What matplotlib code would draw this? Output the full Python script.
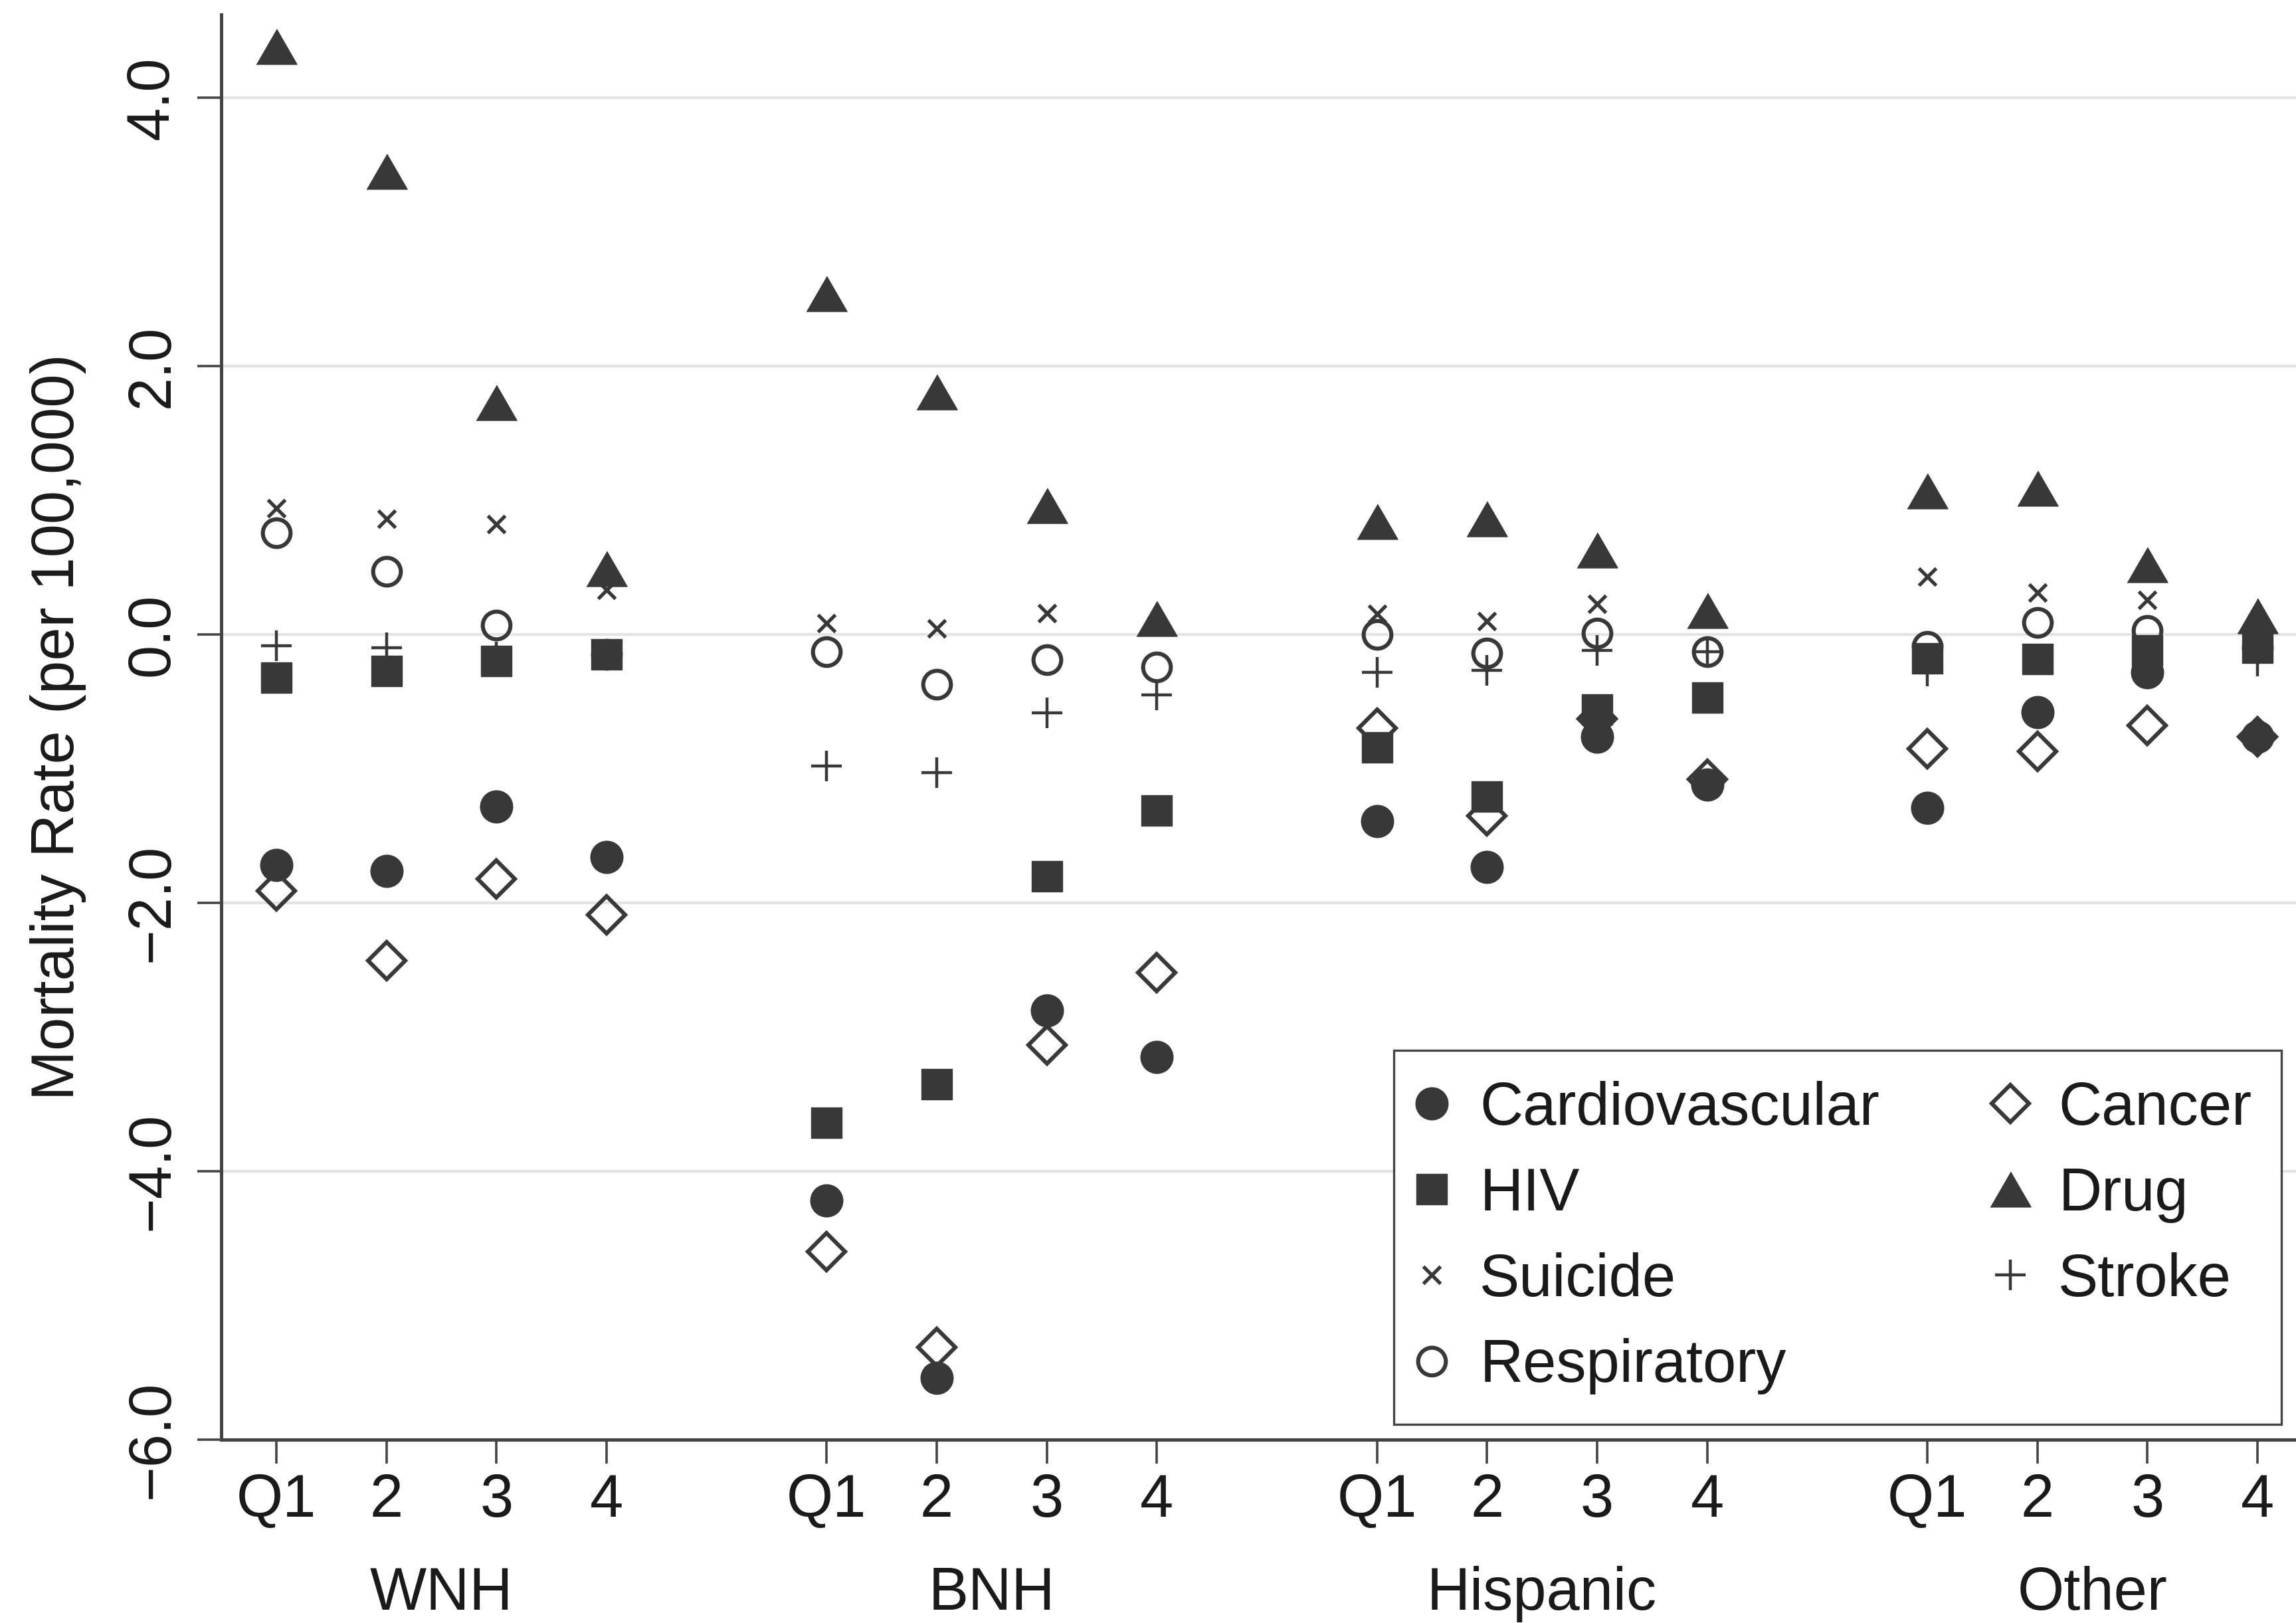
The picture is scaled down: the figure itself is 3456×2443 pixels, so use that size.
import matplotlib
matplotlib.use("Agg")
import matplotlib.pyplot as plt
from matplotlib.transforms import blended_transform_factory

plt.rcParams['font.family'] = ['Liberation Sans', 'DejaVu Sans']

# quartile positions: 4 quartiles per race/ethnicity group, gap of one slot between groups
xpos = [1, 2, 3, 4, 6, 7, 8, 9, 11, 12, 13, 14, 16, 17, 18, 19]
xlabels = ['Q1', '2', '3', '4'] * 4
groups = ['WNH', 'BNH', 'Hispanic', 'Other']
group_centers = [2.5, 7.5, 12.5, 17.5]

# mortality rate change (per 100,000), WNH Q1..4, BNH Q1..4, Hispanic Q1..4, Other Q1..4
cardio = [-1.72, -1.76, -1.28, -1.66, -4.22, -5.54, -2.80, -3.15,
          -1.39, -1.73, -0.76, -1.12, -1.29, -0.58, -0.28, -0.76]
cancer = [-1.91, -2.43, -1.82, -2.09, -4.60, -5.31, -3.06, -2.52,
          -0.70, -1.35, -0.63, -1.08, -0.85, -0.87, -0.68, -0.76]
hiv = [-0.32, -0.27, -0.20, -0.15, -3.64, -3.35, -1.80, -1.31,
       -0.84, -1.21, -0.56, -0.47, -0.18, -0.185, -0.12, -0.10]
drug = [4.38, 3.45, 1.73, 0.49, 2.54, 1.81, 0.96, 0.12,
        0.84, 0.86, 0.63, 0.18, 1.07, 1.09, 0.52, 0.14]
suicide = [0.94, 0.86, 0.82, 0.33, 0.085, 0.045, 0.16, 0.07,
           0.155, 0.10, 0.23, 0.13, 0.43, 0.31, 0.26, 0.09]
stroke = [-0.085, -0.10, -0.17, -0.15, -0.98, -1.03, -0.585, -0.45,
          -0.28, -0.265, -0.12, -0.13, -0.27, -0.185, -0.20, -0.20]
resp = [0.76, 0.47, 0.07, -0.15, -0.13, -0.37, -0.19, -0.24,
        0.0, -0.14, 0.01, -0.13, -0.09, 0.09, 0.03, -0.10]

ink = '#383838'
tri = [(-1, -0.866), (1, -0.866), (0, 0.866)]

fig = plt.figure(figsize=(17.28, 12.215), dpi=200)
ax = fig.add_axes([0.0964, 0.113, 0.9036, 0.878])

kw = dict(linestyle='none', color=ink, zorder=3)
h_cardio, = ax.plot(xpos, cardio, marker='o', ms=17.5, mew=0.5, label='Cardiovascular', **kw)
h_cancer, = ax.plot(xpos, cancer, marker='D', ms=14.4, mew=2.2, mfc='none', label='Cancer', **kw)
h_hiv, = ax.plot(xpos, hiv, marker='s', ms=16.5, mew=0.5, label='HIV', **kw)
h_drug, = ax.plot(xpos, drug, marker=tri, ms=22, mew=0.5, label='Drug', **kw)
h_suicide, = ax.plot(xpos, suicide, marker='x', ms=9.5, mew=1.9, label='Suicide', **kw)
h_stroke, = ax.plot(xpos, stroke, marker='+', ms=16.5, mew=1.6, label='Stroke', **kw)
h_resp, = ax.plot(xpos, resp, marker='o', ms=15, mew=2.2, mfc='none', label='Respiratory', **kw)

ax.set_xlim(0.5, 19.35)
ax.set_ylim(-6.0, 4.62)
ax.set_yticks([-6, -4, -2, 0, 2, 4])
ax.set_yticklabels(['\u22126.0', '\u22124.0', '\u22122.0', '0.0', '2.0', '4.0'])
ax.set_xticks(xpos)
ax.set_xticklabels(xlabels)

ax.grid(axis='y', color='#e4e4e4', linewidth=1.5)
ax.set_axisbelow(True)
for side in ['top', 'right']:
    ax.spines[side].set_visible(False)
for side in ['left', 'bottom']:
    ax.spines[side].set_color('#444444')
    ax.spines[side].set_linewidth(1.8)

ax.tick_params(axis='both', colors='#444444', labelcolor='#1a1a1a',
               length=13, width=1.3, labelsize=32.5)
ax.tick_params(axis='x', pad=5)
ax.tick_params(axis='y', pad=9)
for lab in ax.get_yticklabels():
    lab.set_rotation(90)
    lab.set_va('center')

ax.set_ylabel('Mortality Rate (per 100,000)', fontsize=32.5, color='#1a1a1a')
ax.yaxis.set_label_coords(-0.065, 0.5)

trans = blended_transform_factory(ax.transData, ax.transAxes)
for name, xc in zip(groups, group_centers):
    ax.text(xc, -0.1193, name, transform=trans, ha='center', va='baseline',
            fontsize=32.5, color='#1a1a1a')

leg = ax.legend(handles=[h_cardio, h_hiv, h_suicide, h_resp, h_cancer, h_drug, h_stroke],
                ncol=2, loc='upper left', bbox_to_anchor=(0.5652, 0.273),
                borderaxespad=0, fontsize=32.5, numpoints=1,
                handlelength=0.25, handletextpad=0.68, borderpad=0.5,
                labelspacing=0.49, columnspacing=2.05, fancybox=False,
                framealpha=1, edgecolor='#444444')
leg.get_frame().set_linewidth(1.2)
for t in leg.get_texts():
    t.set_color('#1a1a1a')

fig.savefig('out.png', dpi=200)
